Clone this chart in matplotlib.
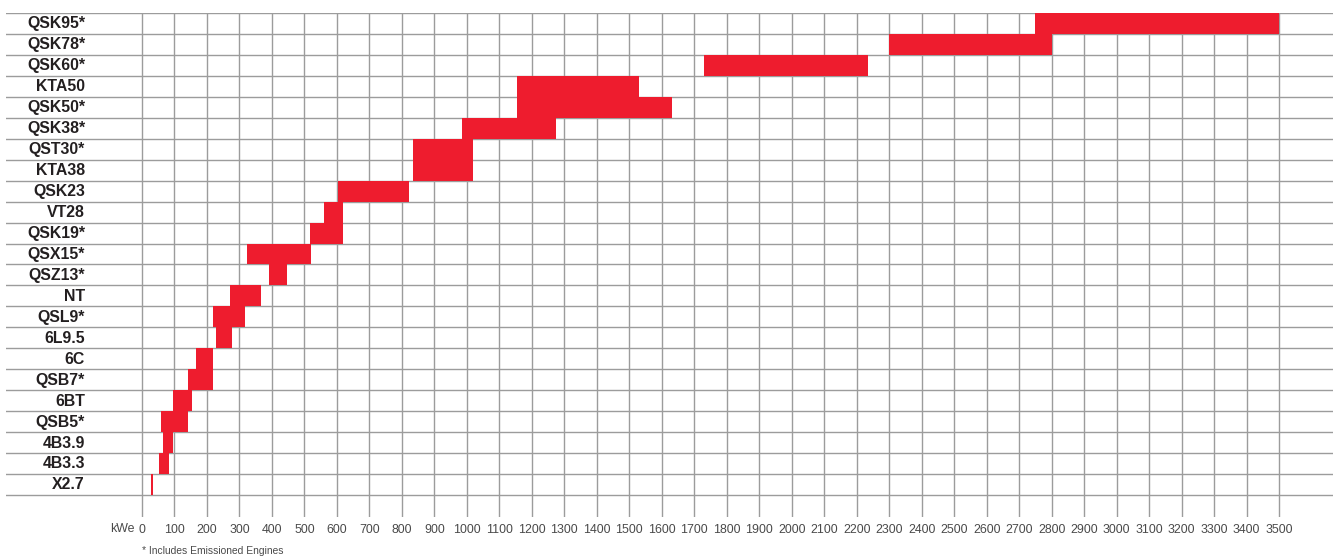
import numpy as np
import matplotlib
matplotlib.use("Agg")
import matplotlib.pyplot as plt

# engine ranges in kWe, top row first
engines = ["QSK95*", "QSK78*", "QSK60*", "KTA50", "QSK50*", "QSK38*", "QST30*",
           "KTA38", "QSK23", "VT28", "QSK19*", "QSX15*", "QSZ13*", "NT", "QSL9*",
           "6L9.5", "6C", "QSB7*", "6BT", "QSB5*", "4B3.9", "4B3.3", "X2.7"]
kwe_min = [2750, 2300, 1730, 1155, 1155, 985, 835, 835, 603, 560, 517, 323, 391,
           271, 219, 228, 166, 142, 95, 58, 65, 52, 28]
kwe_max = [3500, 2800, 2235, 1530, 1630, 1275, 1020, 1020, 822, 620, 620, 520, 446,
           366, 317, 277, 219, 219, 154, 142, 95, 83, 34]
ticks = list(range(0, 3600, 100))

RED = "#ee1c2e"
GRID = "#9c9c9c"

W, H = 1336, 556
fig = plt.figure(figsize=(W / 100, H / 100), dpi=100)
# axes box in pixels: left 6, right 1333, top 13, bottom 517
ax = fig.add_axes([6 / W, (H - 517) / H, 1327 / W, 504 / H])
px_per = 1137 / 3500          # pixels per kWe, 0 at x=142 px
row_h = 482 / 23              # pixels per row
ax.set_xlim((6 - 142) / px_per, (1333 - 142) / px_per)
ax.set_ylim(504 / row_h, 0)

n = len(engines)
for i in range(n + 1):
    ax.axhline(i, color=GRID, lw=1.0, zorder=1)
for t in ticks:
    ax.axvline(t, color=GRID, lw=1.0, zorder=1)

y = np.arange(n)
ax.barh(y, np.array(kwe_max) - np.array(kwe_min), left=kwe_min, height=1.0,
        align="edge", color=RED, lw=0, zorder=2)

for i, name in enumerate(engines):
    ax.text((85 - 142) / px_per, i + 0.52, name, ha="right", va="center",
            fontsize=11.4, fontweight="bold", family="Liberation Sans", color="#231f20")

ax.set_xticks(ticks)
ax.set_xticklabels([str(t) for t in ticks], family="Liberation Sans",
                   fontsize=8.9, color="#4a4a4a")
ax.tick_params(axis="x", length=0, pad=5)
ax.set_yticks([])
for s in ax.spines.values():
    s.set_visible(False)

ax.annotate("kWe", xy=(0, 0), xycoords=("data", "axes fraction"),
            xytext=(-7, -12), textcoords="offset pixels", ha="right", va="center",
            family="Liberation Sans", fontsize=8.9, color="#4a4a4a")

fig.text(142 / W, 1 - 551 / H, "* Includes Emissioned Engines", ha="left",
         va="center", family="Liberation Sans", fontsize=7.4, color="#4a4a4a")

fig.savefig("out.png", dpi=100)
